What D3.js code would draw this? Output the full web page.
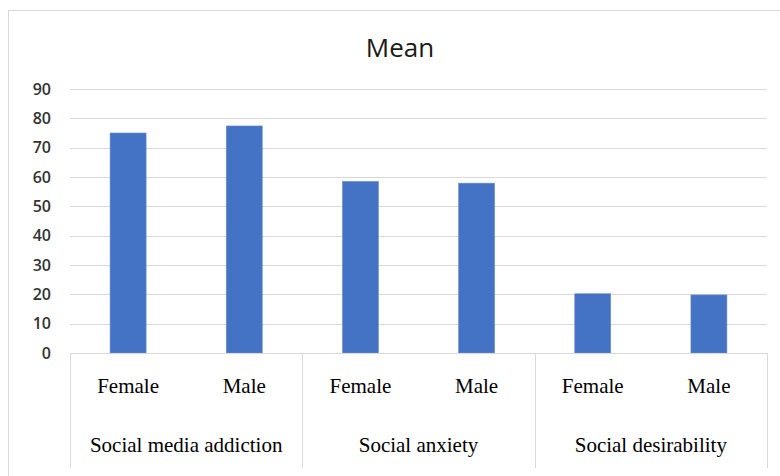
<!DOCTYPE html>
<html>
<head>
<meta charset="utf-8">
<script src="https://cdn.jsdelivr.net/npm/d3@7"></script>
<style>
  body { margin: 0; background: #fff; }
  svg { display: block; }
</style>
</head>
<body>
<svg id="chart" width="780" height="476"></svg>
<script>
const groups = ["Social media addiction", "Social anxiety", "Social desirability"];
const genders = ["Female", "Male"];
const means = [75, 77.4, 58.5, 57.9, 20.2, 19.8];
const yTicks = [0, 10, 20, 30, 40, 50, 60, 70, 80, 90];

const svg = d3.select("#chart");
const plotLeft = 70, plotRight = 767, plotTop = 89, plotBottom = 353;

// outer frame
svg.append("rect")
  .attr("x", 8.5).attr("y", 10.5)
  .attr("width", 790).attr("height", 480)
  .attr("fill", "#fff").attr("stroke", "#d9d9d9");

svg.append("text")
  .attr("x", 400).attr("y", 57)
  .attr("text-anchor", "middle")
  .attr("font-family", "Open Sans, sans-serif")
  .attr("font-size", 26)
  .attr("fill", "#1a1a1a")
  .text("Mean");

const y = d3.scaleLinear().domain([0, 90]).range([plotBottom, plotTop]);

const cats = [];
groups.forEach(g => genders.forEach(s => cats.push(g + "|" + s)));

const x = d3.scaleBand().domain(cats).range([plotLeft, plotRight]).paddingInner(0.69).paddingOuter(0.345);
const xGroup = d3.scaleBand().domain(groups).range([plotLeft, plotRight]);

// gridlines
svg.append("g")
  .selectAll("line")
  .data(yTicks.filter(d => d > 0))
  .enter()
  .append("line")
  .attr("x1", plotLeft).attr("x2", plotRight)
  .attr("y1", d => Math.round(y(d)) + 0.5)
  .attr("y2", d => Math.round(y(d)) + 0.5)
  .attr("stroke", "#d9d9d9")
  .attr("stroke-width", 1);

// y axis labels
const yAxis = svg.append("g")
  .attr("transform", `translate(${plotLeft},0)`)
  .call(d3.axisLeft(y).tickValues(yTicks).tickSize(0).tickPadding(19));
yAxis.select(".domain").remove();
yAxis.selectAll("text")
  .attr("font-family", "Open Sans, sans-serif")
  .attr("font-size", 16)
  .attr("font-weight", 600)
  .attr("fill", "#333");

// bars
svg.append("g")
  .selectAll("rect")
  .data(means)
  .enter()
  .append("rect")
  .attr("x", (d, i) => x(cats[i]))
  .attr("width", x.bandwidth())
  .attr("y", d => y(d))
  .attr("height", d => y(0) - y(d))
  .attr("fill", "#4472c4")
  .attr("stroke", "#6d8fd0")
  .attr("stroke-width", 0.6);

// category axis lines
const axisG = svg.append("g").attr("stroke", "#d9d9d9").attr("stroke-width", 1);
axisG.append("line")
  .attr("x1", plotLeft).attr("x2", plotRight)
  .attr("y1", plotBottom + 0.5).attr("y2", plotBottom + 0.5);
const seps = groups.map(g => xGroup(g)).concat([plotRight]);
axisG.selectAll(".sep")
  .data(seps)
  .enter()
  .append("line")
  .classed("sep", true)
  .attr("x1", d => Math.round(d) + 0.5).attr("x2", d => Math.round(d) + 0.5)
  .attr("y1", plotBottom).attr("y2", 468);

// gender labels
svg.append("g")
  .selectAll("text")
  .data(cats)
  .enter()
  .append("text")
  .attr("x", d => x(d) + x.bandwidth() / 2)
  .attr("y", 393)
  .attr("text-anchor", "middle")
  .attr("font-family", "Liberation Serif, serif")
  .attr("font-size", 21)
  .attr("fill", "#000")
  .text(d => d.split("|")[1]);

// group labels
svg.append("g")
  .selectAll("text")
  .data(groups)
  .enter()
  .append("text")
  .attr("x", d => xGroup(d) + xGroup.bandwidth() / 2)
  .attr("y", 452)
  .attr("text-anchor", "middle")
  .attr("font-family", "Liberation Serif, serif")
  .attr("font-size", 21)
  .attr("fill", "#000")
  .text(d => d);
</script>
</body>
</html>
